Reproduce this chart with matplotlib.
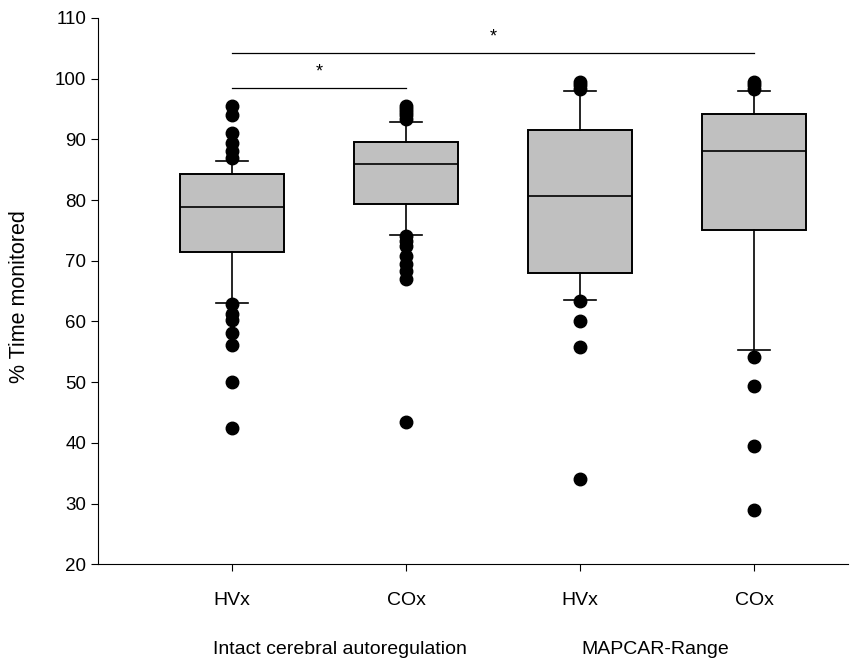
import matplotlib
matplotlib.use('Agg')
import matplotlib.pyplot as plt

plt.rcParams['font.family'] = ['Liberation Sans', 'DejaVu Sans']

# ── Data ────────────────────────────────────────────────────
tick_labels  = ['HVx', 'COx', 'HVx', 'COx']
group_labels = ['Intact cerebral autoregulation', 'MAPCAR-Range']

q1       = [71.5, 79.3, 68.0, 75.1]
median   = [78.8, 86.0, 80.6, 88.1]
q3       = [84.3, 89.5, 91.5, 94.2]
whis_lo  = [63.0, 74.3, 63.5, 55.3]
whis_hi  = [86.5, 92.8, 98.0, 98.0]

fliers_hvx_intact = [95.5, 94.0, 91.0, 89.4, 88.0, 86.9,
                     62.8, 61.3, 60.2, 58.1, 56.1, 50.1, 42.4]
fliers_cox_intact = [95.5, 95.0, 94.5, 94.0, 93.3,
                     74.0, 73.2, 72.5, 70.7, 69.5, 68.3, 67.0, 43.5]
fliers_hvx_mapcar = [99.5, 99.0, 98.3, 63.3, 60.0, 55.8, 34.1]
fliers_cox_mapcar = [99.5, 99.0, 98.3, 54.2, 49.3, 39.5, 28.9]

# significance brackets: (from box, to box, height)
sig_pairs = [(1, 2, 98.5), (1, 4, 104.2)]
# ────────────────────────────────────────────────────────────

fliers = [fliers_hvx_intact, fliers_cox_intact, fliers_hvx_mapcar, fliers_cox_mapcar]
stats = []
for i in range(4):
    stats.append(dict(med=median[i], q1=q1[i], q3=q3[i],
                      whislo=whis_lo[i], whishi=whis_hi[i], fliers=fliers[i]))

fig = plt.figure(figsize=(8.67, 6.63), dpi=100)
ax = fig.add_axes([0.113, 0.149, 0.865, 0.824])

positions = [1, 2, 3, 4]
ax.bxp(stats, positions=positions, widths=0.6, capwidths=0.18,
       patch_artist=True, showfliers=True,
       boxprops=dict(facecolor='#c0c0c0', edgecolor='black', linewidth=1.4),
       medianprops=dict(color='black', linewidth=1.2),
       whiskerprops=dict(color='black', linewidth=1.2),
       capprops=dict(color='black', linewidth=1.2),
       flierprops=dict(marker='o', markerfacecolor='black',
                       markeredgecolor='black', markersize=9))

for a, b, h in sig_pairs:
    ax.plot([a, b], [h, h], color='black', linewidth=0.9)
    ax.text((a + b) / 2, h + 1.2, '*', ha='center', va='bottom', fontsize=13)

ax.set_xlim(0.23, 4.54)
ax.set_ylim(20, 110)
ax.set_yticks(range(20, 111, 10))
ax.set_xticks(positions)
ax.set_xticklabels(tick_labels, fontsize=14)
ax.tick_params(axis='y', labelsize=13.5, direction='out', length=5)
ax.tick_params(axis='x', direction='out', length=5, pad=15)
ax.set_ylabel('% Time monitored', fontsize=15.5)
ax.yaxis.set_label_coords(-0.09, 0.49)

for s in ['top', 'right']:
    ax.spines[s].set_visible(False)

fig.text(340 / 867, 1 - 650 / 663, group_labels[0], ha='center', va='center', fontsize=14)
fig.text(655 / 867, 1 - 650 / 663, group_labels[1], ha='center', va='center', fontsize=14)

fig.savefig('out.png', dpi=100)
